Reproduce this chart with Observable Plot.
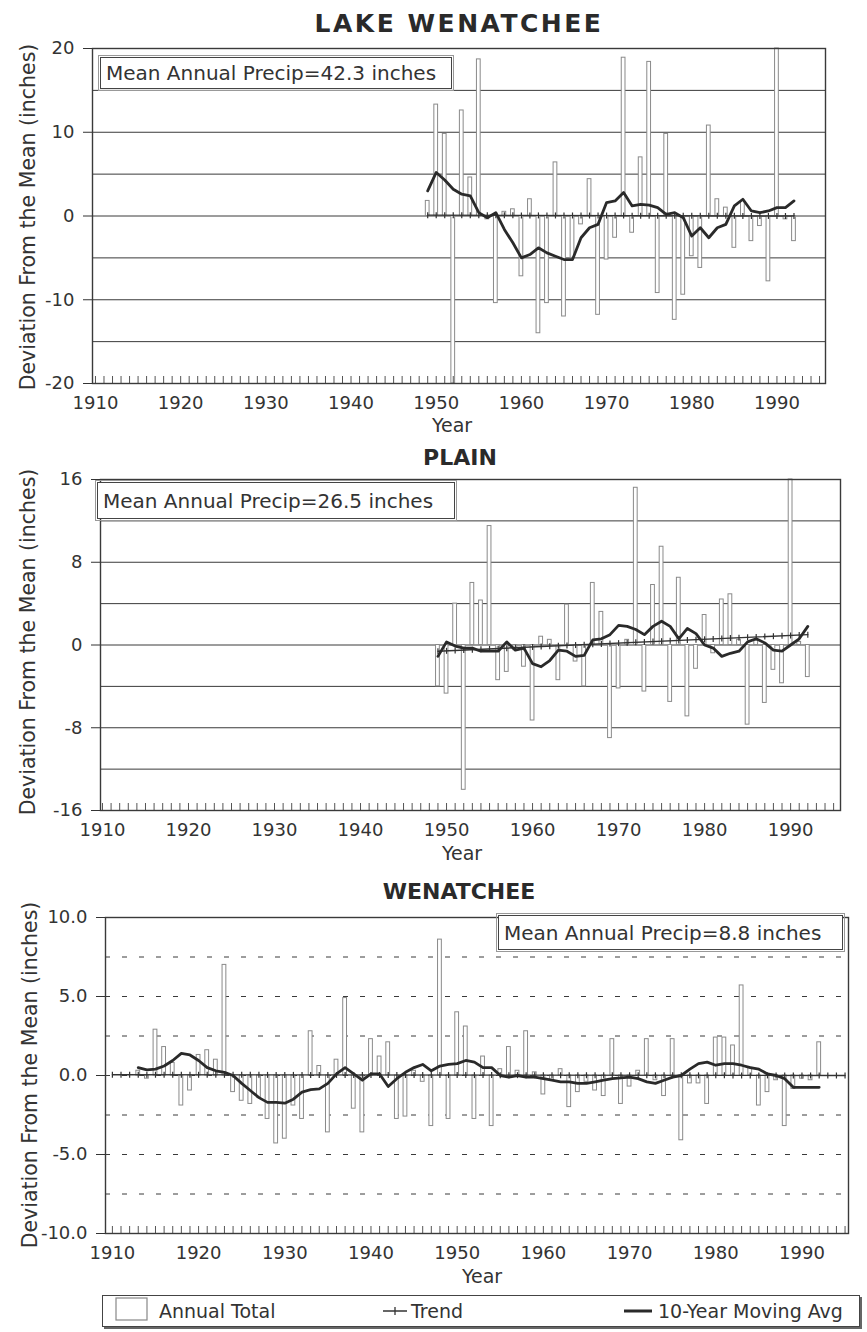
<!DOCTYPE html>
<html>
<head>
<meta charset="utf-8">
<script src="https://cdn.jsdelivr.net/npm/d3@7"></script>
<script src="https://cdn.jsdelivr.net/npm/@observablehq/plot@0.6"></script>
<style>
  html, body { margin: 0; padding: 0; background: #fff; }
  #root { position: relative; width: 867px; height: 1332px; font-family: "DejaVu Sans", sans-serif; color: #333; overflow: hidden; }
  .abs { position: absolute; white-space: nowrap; }
  .title { font-weight: bold; color: #2a2a2a; transform: translateX(-50%); }
  .ylab { font-size: 20.5px; transform: translate(-50%, -50%) rotate(-90deg); }
  .xlab { font-size: 19px; transform: translate(-50%, -50%); }
  .note { border: 1px solid #444; outline: 1px solid #999; outline-offset: 1px; font-size: 20px; line-height: 1; box-sizing: border-box; padding-left: 5px; display: flex; align-items: center; background: #fff; }
  .panel { position: absolute; left: 0; }
  #legend { position: absolute; left: 102px; top: 1295px; width: 758px; height: 32px; border: 1px solid #444; box-shadow: 2px 2px 0 #666; box-sizing: border-box; font-size: 19px; }
  #legend .it { position: absolute; top: 50%; transform: translateY(-50%); white-space: nowrap; }
</style>
</head>
<body>
<div id="root"></div>
<script>
// ---------- DATA ----------
const xTickYears = [1910, 1920, 1930, 1940, 1950, 1960, 1970, 1980, 1990];

// Lake Wenatchee
const lakeYears = [1949,1950,1951,1952,1953,1954,1955,1956,1957,1958,1959,1960,1961,1962,1963,1964,1965,1966,1967,1968,1969,1970,1971,1972,1973,1974,1975,1976,1977,1978,1979,1980,1981,1982,1983,1984,1985,1986,1987,1988,1989,1990,1991,1992];
const lakeTotal = [1.8,13.3,9.8,-20,12.6,4.6,18.7,-0.4,-10.4,0.5,0.8,-7.2,2.0,-14,-10.4,6.4,-12,-5,-1,4.4,-11.8,-5.2,-2.6,18.9,-2.0,7.0,18.4,-9.2,9.8,-12.4,-9.4,-4.8,-6.2,10.8,2.0,1.0,-3.8,1.8,-3.0,-1.2,-7.8,20,-0.4,-3.0];
const lakeAvg = [3.0,5.2,4.3,3.2,2.6,2.4,0.4,-0.2,0.4,-1.6,-3.2,-5.0,-4.6,-3.8,-4.4,-4.8,-5.2,-5.2,-2.6,-1.4,-1.0,1.6,1.8,2.8,1.2,1.4,1.3,1.0,0.2,0.4,-0.2,-2.4,-1.4,-2.6,-1.4,-1.0,1.2,2.0,0.6,0.4,0.6,1.0,1.0,1.8];
const lakeTrendYears = [1949, 1992];
const lakeTrend = [0.1, 0.0];
const lakeYTicks = [-20, -10, 0, 10, 20];
const lakeGrid = [-15, -10, -5, 0, 5, 10, 15];

// Plain
const plainYears = [1949,1950,1951,1952,1953,1954,1955,1956,1957,1958,1959,1960,1961,1962,1963,1964,1965,1966,1967,1968,1969,1970,1971,1972,1973,1974,1975,1976,1977,1978,1979,1980,1981,1982,1983,1984,1985,1986,1987,1988,1989,1990,1991,1992];
const plainTotal = [-4.0,-4.7,4.0,-14,6.0,4.3,11.5,-3.4,-2.6,-0.5,-2.1,-7.3,0.8,0.5,-3.4,3.9,-1.6,-4.0,6.0,3.2,-9.0,-4.2,0.5,15.2,-4.5,5.8,9.5,-5.5,6.5,-6.9,-2.3,2.9,-0.8,4.4,4.9,0.5,-7.7,0.4,-5.6,-2.4,-3.7,16,0.3,-3.1];
const plainAvg = [-1.1,0.3,-0.1,-0.3,-0.3,-0.6,-0.6,-0.6,0.3,-0.5,-0.3,-1.8,-2.1,-1.5,-0.5,-0.6,-1.1,-1.0,0.5,0.6,1.0,1.9,1.8,1.5,1.0,1.8,2.3,1.8,0.6,1.6,1.1,0.0,-0.3,-1.1,-0.8,-0.6,0.3,0.6,0.2,-0.5,-0.6,0.0,0.6,1.8];
const plainTrendYears = [1949, 1992];
const plainTrend = [-0.6, 1.0];
const plainYTicks = [-16, -8, 0, 8, 16];
const plainGrid = [-12, -8, -4, 0, 4, 8, 12];

// Wenatchee
const wenYears = [1913,1914,1915,1916,1917,1918,1919,1920,1921,1922,1923,1924,1925,1926,1927,1928,1929,1930,1931,1932,1933,1934,1935,1936,1937,1938,1939,1940,1941,1942,1943,1944,1945,1946,1947,1948,1949,1950,1951,1952,1953,1954,1955,1956,1957,1958,1959,1960,1961,1962,1963,1964,1965,1966,1967,1968,1969,1970,1971,1972,1973,1974,1975,1976,1977,1978,1979,1980,1981,1982,1983,1984,1985,1986,1987,1988,1989,1990,1991,1992];
const wenTotal = [0.3,-0.2,2.9,1.8,0.8,-1.9,-0.95,1.3,1.6,1.0,7.0,-1.05,-1.6,-1.8,-1.4,-2.75,-4.3,-4.0,-1.9,-2.75,2.8,0.6,-3.6,1.0,4.9,-2.1,-3.6,2.3,1.2,2.1,-2.75,-2.6,0.3,-0.4,-3.2,8.6,-2.75,4.0,3.1,-2.75,1.2,-3.2,0.4,1.8,0.3,2.8,0.2,-1.2,-0.3,0.4,-2.0,-1.05,-0.4,-0.95,-1.3,2.3,-1.8,-0.7,0.3,2.3,-0.3,-1.3,2.3,-4.1,-0.5,-0.5,-1.8,2.4,2.4,1.9,5.7,0.5,-1.9,-1.05,-0.3,-3.2,-0.85,-0.2,-0.3,2.1];
const wenAvg = [0.5,0.36,0.4,0.6,0.95,1.4,1.3,0.95,0.5,0.3,0.2,0.0,-0.5,-0.95,-1.4,-1.7,-1.7,-1.75,-1.5,-1.05,-0.9,-0.85,-0.5,0.1,0.5,0.1,-0.3,0.1,0.1,-0.7,-0.2,0.2,0.5,0.7,0.3,0.6,0.7,0.75,0.95,0.85,0.5,0.5,0.0,-0.1,0.0,-0.1,-0.1,-0.2,-0.3,-0.4,-0.4,-0.5,-0.5,-0.4,-0.3,-0.2,-0.15,-0.1,-0.2,-0.4,-0.5,-0.3,-0.1,0.0,0.4,0.75,0.85,0.65,0.75,0.75,0.65,0.5,0.4,0.1,0.0,-0.2,-0.75,-0.75,-0.75,-0.75];
const wenTrendYears = [1910, 1995];
const wenTrend = [0.05, 0.0];
const wenYTicks = [-10, -5, 0, 5, 10];
const wenGrid = [-7.5, -5, -2.5, 0, 2.5, 5, 7.5];

// ---------- DRAWING ----------
const root = document.getElementById("root");
const minorYears = d3.range(1910, 1996);
const vtick = { draw(ctx, size) { const r = Math.sqrt(size / Math.PI); ctx.moveTo(0, -r); ctx.lineTo(0, r); } };

function makePanel(cfg) {
  const data = cfg.years.map((year, i) => ({ year, total: cfg.total[i], avg: cfg.avg[i] }));
  const plotH = cfg.height - cfg.marginTop - cfg.marginBottom;
  const [y0, y1] = cfg.yDomain;
  const tickLen = (y1 - y0) * 7 / plotH;
  const [t0, t1] = cfg.trendYears;
  const [v0, v1] = cfg.trendValues;
  const trendLine = [{ year: t0, v: v0 }, { year: t1, v: v1 }];
  const markYears = cfg.trendMarkYears;
  const trendPts = markYears.map(yr => ({ year: yr, v: v0 + (v1 - v0) * (yr - t0) / (t1 - t0) }));
  const fmt = d => (d < 0 ? "-" : "") + (cfg.decimals ? Math.abs(d).toFixed(1) : String(Math.abs(d)));
  const svg = Plot.plot({
    width: 867,
    height: cfg.height,
    marginTop: cfg.marginTop,
    marginRight: cfg.marginRight,
    marginBottom: cfg.marginBottom,
    marginLeft: cfg.marginLeft,
    style: { fontFamily: "DejaVu Sans, sans-serif", fontSize: "18px", color: "#333", background: "transparent", overflow: "visible" },
    x: { domain: cfg.xDomain },
    y: { domain: cfg.yDomain },
    marks: [
      Plot.ruleY(cfg.grid, { stroke: "#3a3a3a", strokeWidth: 1, strokeDasharray: cfg.dashed ? "5,12" : null }),
      Plot.rectY(data, { x1: d => d.year - 0.22, x2: d => d.year + 0.22, y1: 0, y2: "total", fill: "white", stroke: "#8a8a8a", strokeWidth: 1 }),
      Plot.line(trendLine, { x: "year", y: "v", stroke: "#333", strokeWidth: 1.4 }),
      Plot.dot(trendPts, { x: "year", y: "v", symbol: vtick, r: 3, stroke: "#333", strokeWidth: 1.2, fill: "none" }),
      Plot.line(data, { x: "year", y: "avg", stroke: "#2a2a2a", strokeWidth: 2.8, strokeLinejoin: "round" }),
      Plot.ruleX(minorYears, { x: d => d, y1: y0, y2: y0 + tickLen, stroke: "#555", strokeWidth: 1 }),
      Plot.frame({ stroke: "#3a3a3a", strokeWidth: 1.4 }),
      Plot.axisY({ ticks: cfg.yTicks, tickFormat: fmt, tickSize: 9, tickPadding: 9, fontSize: 18, label: null }),
      Plot.axisX({ ticks: xTickYears, tickFormat: d => String(d), tickSize: 0, tickPadding: 13, fontSize: 18, label: null })
    ]
  });
  svg.classList.add("panel");
  svg.style.top = cfg.top + "px";
  root.appendChild(svg);

  const t = document.createElement("div");
  t.className = "abs title";
  t.textContent = cfg.title;
  t.style.left = cfg.titleX + "px";
  t.style.fontSize = cfg.titleSize + "px";
  t.style.letterSpacing = (cfg.titleSpacing || 0) + "px";
  t.style.lineHeight = "1";
  t.style.top = (cfg.titleY - cfg.titleSize * 0.48) + "px";
  root.appendChild(t);

  const n = document.createElement("div");
  n.className = "abs note";
  n.textContent = cfg.note;
  Object.assign(n.style, { left: cfg.noteBox[0] + "px", top: cfg.noteBox[1] + "px", width: cfg.noteBox[2] + "px", height: cfg.noteBox[3] + "px" });
  root.appendChild(n);

  const yl = document.createElement("div");
  yl.className = "abs ylab";
  yl.textContent = "Deviation From the Mean (inches)";
  yl.style.left = cfg.yLabelPos[0] + "px";
  yl.style.top = cfg.yLabelPos[1] + "px";
  root.appendChild(yl);

  const xl = document.createElement("div");
  xl.className = "abs xlab";
  xl.textContent = "Year";
  xl.style.left = cfg.xLabelPos[0] + "px";
  xl.style.top = cfg.xLabelPos[1] + "px";
  root.appendChild(xl);
}

makePanel({
  title: "LAKE WENATCHEE", titleX: 459, titleY: 23, titleSize: 25, titleSpacing: 2.5,
  years: lakeYears, total: lakeTotal, avg: lakeAvg,
  trendYears: lakeTrendYears, trendValues: lakeTrend, trendMarkYears: lakeYears,
  yDomain: [-20, 20], yTicks: lakeYTicks, grid: lakeGrid, dashed: false, decimals: false,
  xDomain: [1909.65, 1995.7],
  top: 20, height: 403, marginTop: 28, marginBottom: 40, marginLeft: 92, marginRight: 42,
  note: "Mean Annual Precip=42.3 inches", noteBox: [100, 57, 352, 32],
  yLabelPos: [28, 217], xLabelPos: [452, 425]
});

makePanel({
  title: "PLAIN", titleX: 460, titleY: 458, titleSize: 22,
  years: plainYears, total: plainTotal, avg: plainAvg,
  trendYears: plainTrendYears, trendValues: plainTrend, trendMarkYears: plainYears,
  yDomain: [-16, 16], yTicks: plainYTicks, grid: plainGrid, dashed: false, decimals: false,
  xDomain: [1909.77, 1995.8],
  top: 460, height: 390, marginTop: 19, marginBottom: 40, marginLeft: 100, marginRight: 27,
  note: "Mean Annual Precip=26.5 inches", noteBox: [97, 482, 358, 37],
  yLabelPos: [28, 642], xLabelPos: [462, 853]
});

makePanel({
  title: "WENATCHEE", titleX: 459, titleY: 892, titleSize: 22,
  years: wenYears, total: wenTotal, avg: wenAvg,
  trendYears: wenTrendYears, trendValues: wenTrend, trendMarkYears: minorYears,
  yDomain: [-10, 10], yTicks: wenYTicks, grid: wenGrid, dashed: true, decimals: true,
  xDomain: [1909.2, 1995.4],
  top: 895, height: 378, marginTop: 22, marginBottom: 40, marginLeft: 105, marginRight: 19,
  note: "Mean Annual Precip=8.8 inches", noteBox: [498, 915, 345, 35],
  yLabelPos: [30, 1075], xLabelPos: [482, 1276]
});

// ---------- LEGEND ----------
const legend = document.createElement("div");
legend.id = "legend";
legend.innerHTML = `
  <div class="it" style="left:12px;"><svg width="34" height="24"><rect x="1" y="1" width="31" height="22" fill="white" stroke="#888" stroke-width="1.2"/></svg></div>
  <div class="it" style="left:56px;">Annual Total</div>
  <div class="it" style="left:280px;"><svg width="26" height="14"><line x1="0" y1="7" x2="24" y2="7" stroke="#333" stroke-width="1.5"/><line x1="12" y1="3" x2="12" y2="11" stroke="#333" stroke-width="1.3"/></svg></div>
  <div class="it" style="left:308px;">Trend</div>
  <div class="it" style="left:521px;"><svg width="30" height="14"><line x1="0" y1="7" x2="28" y2="7" stroke="#2a2a2a" stroke-width="3"/></svg></div>
  <div class="it" style="left:555px;">10-Year Moving Avg</div>
`;
root.appendChild(legend);
</script>
</body>
</html>
